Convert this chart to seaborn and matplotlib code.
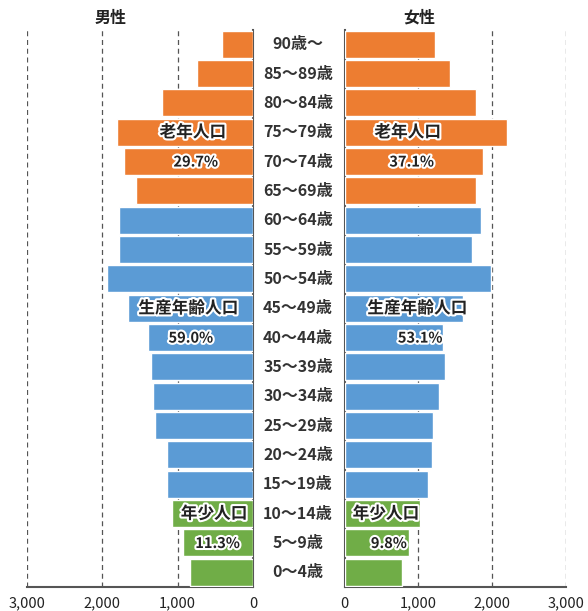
import matplotlib
matplotlib.use("Agg")
import matplotlib.pyplot as plt
import matplotlib.patheffects as pe
import seaborn as sns
import pandas as pd

# Age bands, oldest at the top
ages = ["90歳～", "85～89歳", "80～84歳", "75～79歳", "70～74歳", "65～69歳",
        "60～64歳", "55～59歳", "50～54歳", "45～49歳", "40～44歳", "35～39歳",
        "30～34歳", "25～29歳", "20～24歳", "15～19歳", "10～14歳", "5～9歳", "0～4歳"]
groups = ["老年"] * 6 + ["生産"] * 10 + ["年少"] * 3

male = [410, 750, 1210, 1800, 1710, 1550,
        1780, 1780, 1940, 1660, 1400, 1350, 1330, 1300, 1140, 1140,
        1070, 930, 840]
female = [1220, 1430, 1780, 2200, 1870, 1780,
          1850, 1730, 1990, 1600, 1340, 1360, 1280, 1200, 1180, 1130,
          1020, 880, 780]

xticks = [0, 1000, 2000, 3000]
xticklabels = ["0", "1,000", "2,000", "3,000"]

group_names = {"老年": "老年人口", "生産": "生産年齢人口", "年少": "年少人口"}
male_share = {"老年": "29.7%", "生産": "59.0%", "年少": "11.3%"}
female_share = {"老年": "37.1%", "生産": "53.1%", "年少": "9.8%"}

palette = {"老年": "#ED7D31", "生産": "#5B9BD5", "年少": "#70AD47"}

df = pd.DataFrame({"age": ages, "group": groups, "male": male, "female": female})

sns.set_style("white")
plt.rcParams["font.family"] = ["Noto Sans CJK JP", "DejaVu Sans"]

W, H = 588, 611
fig = plt.figure(figsize=(W / 100, H / 100), dpi=100)
bottom = 1 - 587 / H
top = 1 - 29.5 / H
ax_m = fig.add_axes([27 / W, bottom, 226 / W, top - bottom])
ax_f = fig.add_axes([344.5 / W, bottom, 221.5 / W, top - bottom])

for ax, col in ((ax_m, "male"), (ax_f, "female")):
    sns.barplot(data=df, x=col, y="age", hue="group", palette=palette,
                order=ages, dodge=False, width=0.92, legend=False,
                saturation=1, ax=ax, zorder=3)
    ax.set_ylim(len(ages) - 0.5, -0.5)
    ax.set_xticks(xticks)
    ax.set_xticklabels(xticklabels, fontsize=10.5, color="#222222")
    ax.tick_params(axis="x", length=0, pad=7)
    ax.set_yticks([])
    ax.set_xlabel("")
    ax.set_ylabel("")
    for v in xticks[1:]:
        ax.axvline(v, color="#555555", lw=0.9, ls=(0, (4, 3)), zorder=1)
    for s in ax.spines.values():
        s.set_visible(False)
    ax.spines["bottom"].set_visible(True)
    ax.spines["bottom"].set_color("#555555")
    ax.spines["bottom"].set_linewidth(1.5)

ax_m.set_xlim(3000, 0)
ax_m.spines["right"].set_visible(True)
ax_m.spines["right"].set_color("#555555")
ax_m.spines["right"].set_linewidth(1.5)
ax_f.set_xlim(0, 3000)
ax_f.spines["left"].set_visible(True)
ax_f.spines["left"].set_color("#555555")
ax_f.spines["left"].set_linewidth(1.5)

# Age band labels between the two halves
mid = (298 - 344.5) / 221.5
for i, a in enumerate(ages):
    ax_f.text(mid, i, a, transform=ax_f.get_yaxis_transform(), ha="center",
              va="center", fontsize=11.5, fontweight="bold", color="#333333")

halo = [pe.withStroke(linewidth=3, foreground="white")]
# (group, name row, share row, male x name, male x share, female x name, female x share)
label_rows = [("老年", 3, 4, 800, 760, 855, 910),
              ("生産", 9, 10, 860, 826, 985, 1025),
              ("年少", 16, 17, 518, 470, 560, 600)]
for g, r1, r2, mx1, mx2, fx1, fx2 in label_rows:
    for ax, x1, x2, share in ((ax_m, mx1, mx2, male_share),
                              (ax_f, fx1, fx2, female_share)):
        ax.text(x1, r1, group_names[g], ha="center", va="center",
                fontsize=12, fontweight="bold", color="#222222",
                path_effects=halo, zorder=5)
        ax.text(x2, r2, share[g], ha="center", va="center",
                fontsize=10.5, fontweight="bold", color="#222222",
                path_effects=halo, zorder=5)

fig.text(111 / W, 1 - 18 / H, "男性", ha="center", va="center",
         fontsize=11.5, fontweight="bold", color="#222222")
fig.text(419 / W, 1 - 18 / H, "女性", ha="center", va="center",
         fontsize=11.5, fontweight="bold", color="#222222")

fig.savefig("out.png", dpi=100)
